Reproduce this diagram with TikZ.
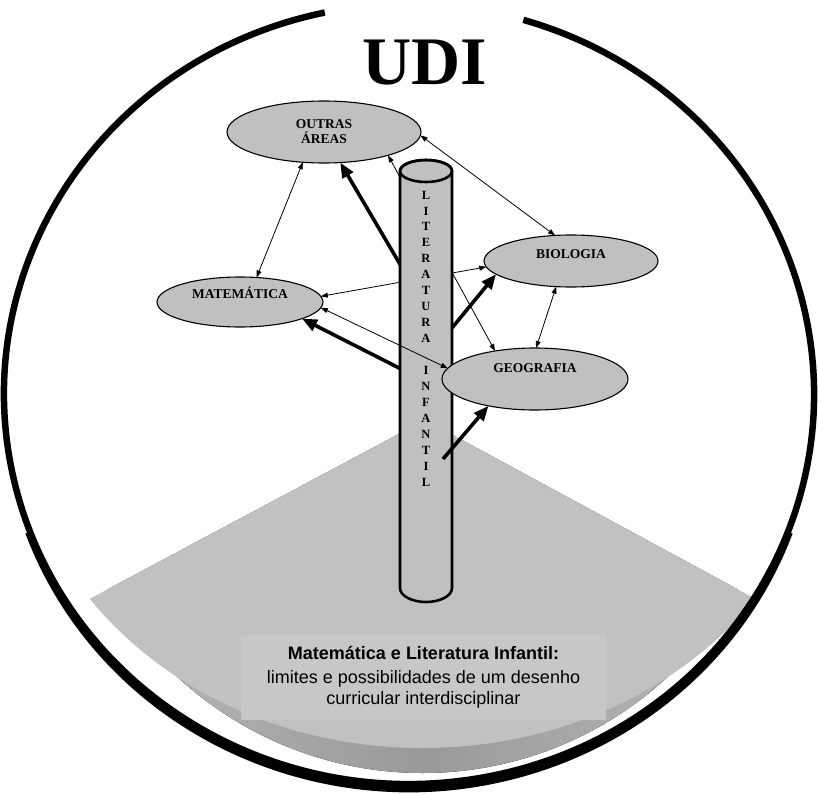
\documentclass[tikz,border=0pt]{standalone}
\usepackage{fontspec}
\newfontfamily\udifont{Liberation Serif}
\newfontfamily\capfont{Liberation Sans}
\usetikzlibrary{arrows.meta, shapes.geometric, calc}
\definecolor{areagray}{HTML}{C0C0C0}
\definecolor{floorgray}{HTML}{C1C1C1}
\definecolor{boxgray}{HTML}{C7C7C7}
\definecolor{bandlight}{HTML}{BDBDBD}
\definecolor{banddark}{HTML}{999999}
\pgfdeclarelayer{floor}
\pgfdeclarelayer{behind}
\pgfdeclarelayer{pillar}
\pgfsetlayers{floor,behind,pillar,main}

\begin{document}
\begin{tikzpicture}[x=1pt, y=-1pt,
    area/.style={ellipse, draw, line width=1.1pt, fill=areagray,
                 inner sep=0pt, outer sep=0pt, align=center,
                 font=\udifont\bfseries\fontsize{13.5}{15}\selectfont},
    link/.style={line width=0.8pt, >={Triangle[length=7pt, width=5pt]}, <->},
    limb/.style={line width=3.6pt, -{Triangle[length=15pt, width=12pt]}},
    colletter/.style={font=\udifont\bfseries\fontsize{12.5}{13}\selectfont,
                      inner sep=0pt}
  ]
  \useasboundingbox (0,0) rectangle (818,794);

  % outer ring, open at the top
  \draw[line width=6.5pt] ([shift={(102:405pt and 390pt)}]409,394)
    arc[start angle=102, end angle=433.6, x radius=405pt, y radius=390pt];
  \draw[line width=6.5pt] ([shift={(200:405pt and 390pt)}]409,399)
    arc[start angle=200, end angle=340, x radius=405pt, y radius=390pt];

  \node[anchor=base, inner sep=0pt,
        font=\udifont\bfseries\fontsize{68}{70}\selectfont] (udi) at (424.5,85) {UDI};

  % floor
  \begin{pgfonlayer}{floor}
    \begin{scope}
      \clip (425,420) -- (-111,706) -- (-111,800) -- (953,800) -- (953,706) -- cycle;
      \fill[left color=bandlight, right color=bandlight, middle color=banddark]
        (422.5,400) ellipse [x radius=366pt, y radius=373pt];
      \fill[floorgray] (422.5,400) ellipse [x radius=405.3pt, y radius=348pt];
    \end{scope}
    \node[fill=boxgray, minimum width=365pt, minimum height=85pt, inner sep=0pt,
          align=center, font=\capfont\fontsize{18}{21}\selectfont] (title) at (423.5,677.5)
      {\textbf{Matemática e Literatura Infantil:}\\[3pt]
       limites e possibilidades de um desenho\\
       curricular interdisciplinar};
  \end{pgfonlayer}

  % areas
  \node[area, minimum width=194pt, minimum height=62pt] (outras) at (324,132) {OUTRAS\\ÁREAS};
  \node[area, minimum width=166pt, minimum height=50pt,
        text height=9pt, text depth=16pt] (mat) at (240,302) {MATEMÁTICA};
  \node[area, minimum width=174pt, minimum height=52pt,
        text height=9pt, text depth=14pt] (bio) at (571,261) {BIOLOGIA};
  \node[area, minimum width=186pt, minimum height=62pt,
        text height=9pt, text depth=22pt] (geo) at (535,379) {GEOGRAFIA};

  % links passing behind the column
  \begin{pgfonlayer}{behind}
    \coordinate (k1) at (404,271);
    \coordinate (k2) at (447,334);
    \coordinate (k3) at (407,372);
    \draw[link] (mat.4) -- (bio.184);
    \draw[link] (outras.-20) -- (geo.145);
    \draw[limb] (k1) -- (outras.-62);
    \draw[limb] (k2) -- (bio.190);
    \draw[limb] (k3) -- (mat.-15);
  \end{pgfonlayer}

  % column
  \begin{pgfonlayer}{pillar}
    \draw[line width=2.6pt, fill=areagray] (400,171) -- (400,588)
      arc[start angle=180, end angle=360, x radius=26pt, y radius=14pt]
      -- (452,171)
      arc[start angle=0, end angle=180, x radius=26pt, y radius=11pt] -- cycle;
    \draw[line width=2.6pt] (426,171) ellipse [x radius=26pt, y radius=11pt];
  \end{pgfonlayer}
  \foreach \ch [count=\i from 0] in {L,I,T,E,R,A,T,U,R,A}
    \node[colletter] (lit\i) at (426,195+15.94*\i) {\ch};
  \foreach \ch [count=\i from 11] in {I,N,F,A,N,T,I,L}
    \node[colletter] (inf\i) at (426,195+15.94*\i) {\ch};

  % links in front
  \draw[link] (outras.235) -- (mat.56);
  \draw[link] (outras.-2) -- (bio.122);
  \draw[link] (mat.-4) -- (geo.173);
  \draw[link] (bio.240) -- (geo.88);
  \coordinate (k4) at (443,459);
  \draw[limb] (k4) -- (geo.210);
\end{tikzpicture}
\end{document}
